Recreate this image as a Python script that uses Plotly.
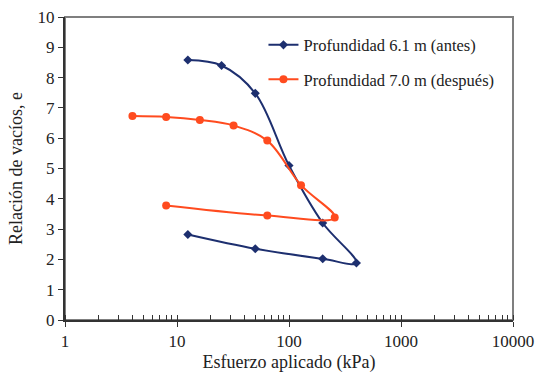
import plotly.graph_objects as go

# Data
stress_61 = [12.5, 25, 50, 100, 200, 400, 200, 50, 12.5]
e_61 = [8.58, 8.40, 7.48, 5.10, 3.20, 1.88, 2.02, 2.35, 2.82]
stress_70 = [4, 8, 16, 32, 64, 128, 256, 64, 8]
e_70 = [6.73, 6.70, 6.60, 6.42, 5.92, 4.45, 3.38, 3.45, 3.78]
name_61 = "Profundidad 6.1 m (antes)"
name_70 = "Profundidad 7.0 m (después)"
x_ticks = [1, 10, 100, 1000, 10000]
y_ticks = list(range(0, 11))

BLUE = "#1D2F6F"
ORANGE = "#FF4B1F"
FONT = "Liberation Serif"

fig = go.Figure()
fig.add_trace(go.Scatter(
    x=stress_61, y=e_61, name=name_61, mode="lines+markers",
    line=dict(color=BLUE, width=2, shape="spline", smoothing=1.0),
    marker=dict(symbol="diamond", size=7, color=BLUE),
    legendgroup="a",
))
fig.add_trace(go.Scatter(
    x=stress_70, y=e_70, name=name_70, mode="lines+markers",
    line=dict(color=ORANGE, width=2, shape="spline", smoothing=1.0),
    marker=dict(symbol="circle", size=8, color=ORANGE),
    legendgroup="b",
))

fig.update_layout(
    width=536, height=375,
    margin=dict(l=65, r=23, t=17, b=55, autoexpand=False),
    paper_bgcolor="white", plot_bgcolor="white",
    font=dict(family=FONT, size=16, color="#222222"),
    showlegend=True,
    legend=dict(
        x=0.443, y=0.965, xanchor="left", yanchor="top",
        bgcolor="rgba(0,0,0,0)", font=dict(family=FONT, size=16.5, color="#222222"),
        tracegroupgap=10, itemwidth=30,
    ),
    xaxis=dict(
        type="log", range=[0, 4], tickvals=x_ticks, ticktext=[str(v) for v in x_ticks],
        showgrid=False, zeroline=False, automargin=False,
        showline=True, linecolor="#333333", linewidth=2,
        ticks="outside", ticklen=5, tickcolor="#333333", tickwidth=1,
        minor=dict(ticks="inside", ticklen=5, tickcolor="#333333", dtick="D1", showgrid=False),
        title=dict(text="Esfuerzo aplicado (kPa)", font=dict(family=FONT, size=18), standoff=5),
        tickfont=dict(family=FONT, size=17),
    ),
    yaxis=dict(
        range=[0, 10], tickvals=y_ticks,
        showgrid=False, zeroline=False, automargin=False,
        showline=True, linecolor="#333333", linewidth=2,
        ticks="outside", ticklen=5, tickcolor="#333333", tickwidth=1,
        title=dict(text="Relación de vacíos, e", font=dict(family=FONT, size=18), standoff=10),
        tickfont=dict(family=FONT, size=17),
    ),
)
# gray frame (top and right)
fig.add_shape(type="rect", xref="paper", yref="paper", x0=0, x1=1, y0=0, y1=1,
              line=dict(color="#7F7F7F", width=2), layer="below")

fig.write_html("out.html", config={"displayModeBar": False},
               post_script="document.body.style.margin='0';document.body.style.overflow='hidden';")
